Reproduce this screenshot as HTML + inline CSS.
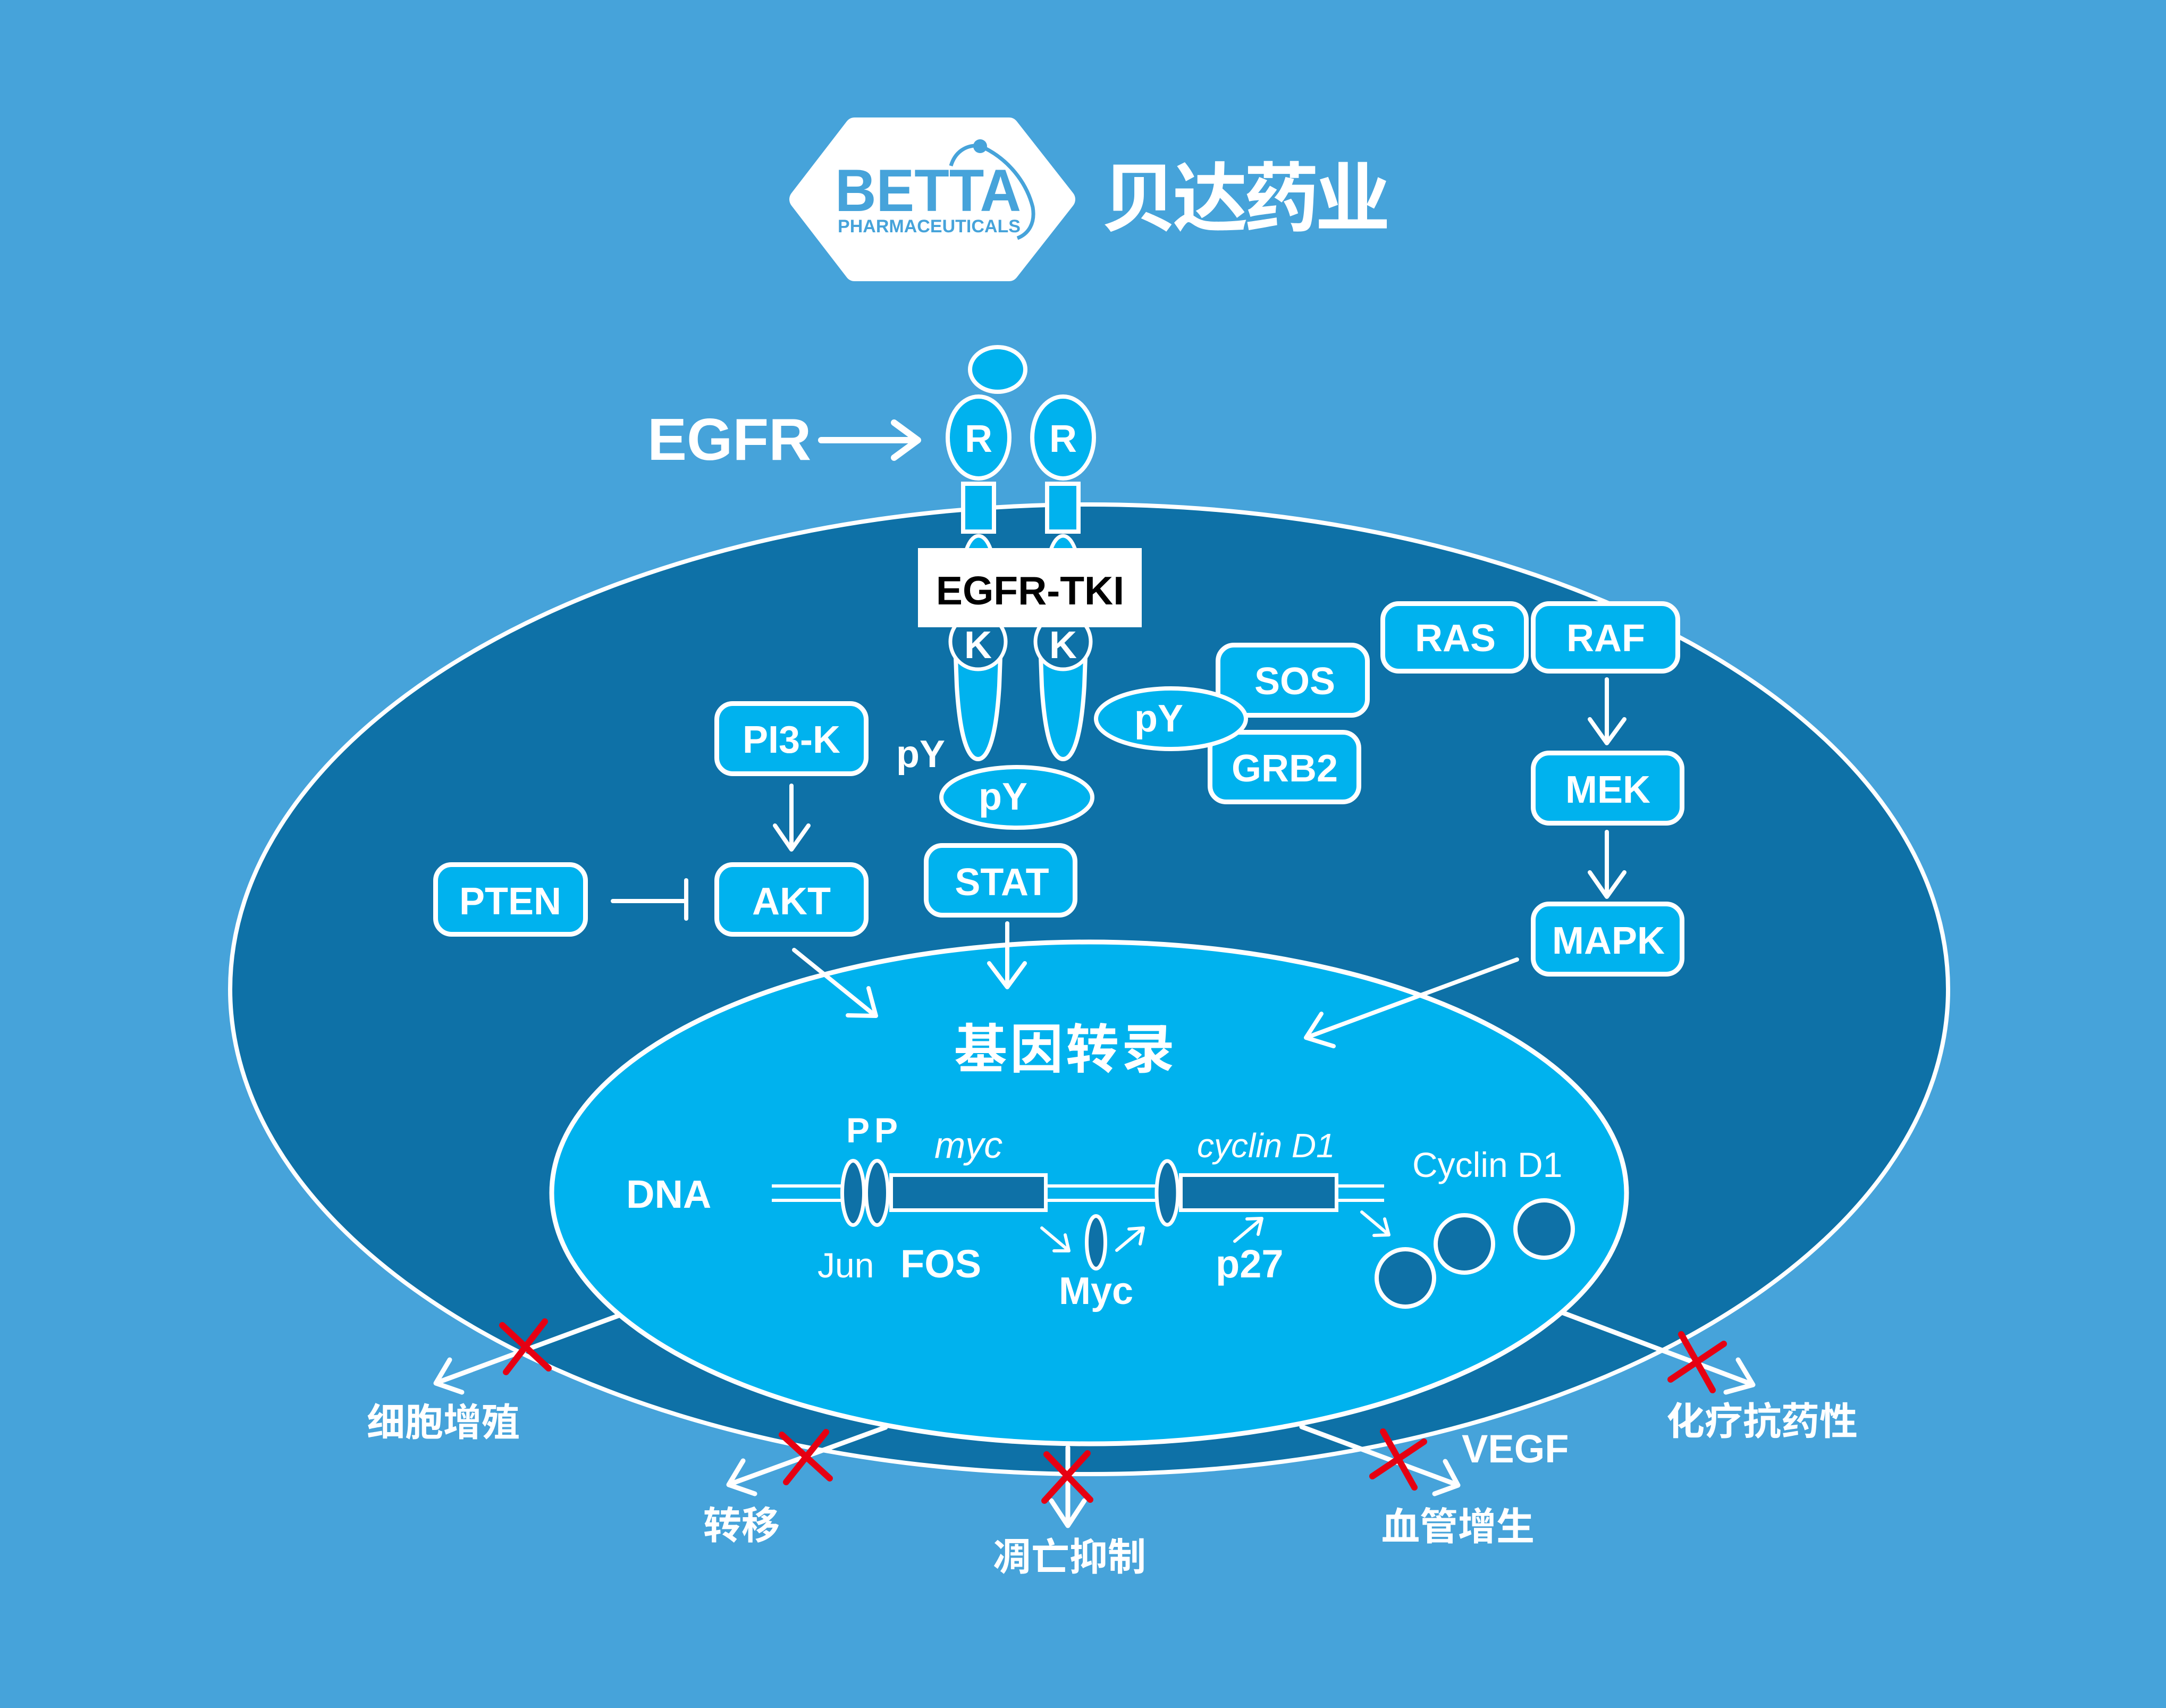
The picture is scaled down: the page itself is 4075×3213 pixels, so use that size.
<!DOCTYPE html>
<html>
<head>
<meta charset="utf-8">
<style>
html,body{margin:0;padding:0;background:#46a3da;}
svg{display:block;}
.lat{font-family:"Liberation Sans",Arial,sans-serif;}
.cjk{font-family:"Liberation Sans","Noto Sans CJK SC","WenQuanYi Zen Hei",sans-serif;font-weight:bold;}
.w{stroke:#fff;fill:none;stroke-linecap:round;stroke-linejoin:round;}
.box{fill:#00b2ee;stroke:#fff;stroke-width:9;}
.bt{font-family:"Liberation Sans",Arial,sans-serif;font-weight:bold;font-size:72px;fill:#fff;text-anchor:middle;}
.rx{stroke:#e60012;stroke-width:12;stroke-linecap:round;fill:none;}
</style>
</head>
<body>
<svg width="4075" height="3213" viewBox="0 0 4075 3213" xmlns="http://www.w3.org/2000/svg">
<rect width="4075" height="3213" fill="#46a3da"/>

<!-- Logo -->
<polygon points="1608,240 1898,240 2004,375 1898,510 1608,510 1504,375" fill="#fff" stroke="#fff" stroke-width="38" stroke-linejoin="round"/>
<text class="lat" x="1571" y="397" font-size="112" font-weight="bold" fill="#46a3da" textLength="350" lengthAdjust="spacingAndGlyphs">BETTA</text>
<text class="lat" x="1576" y="437" font-size="34" font-weight="bold" fill="#46a3da" textLength="344" lengthAdjust="spacingAndGlyphs">PHARMACEUTICALS</text>
<path d="M1789,312 C1796,288 1815,272 1843,274 C1898,298 1932,345 1943,390 C1948,420 1935,440 1914,448" fill="none" stroke="#46a3da" stroke-width="7"/>
<circle cx="1844" cy="275" r="13" fill="#46a3da"/>
<text class="cjk" x="2072 2206 2340 2474" y="375" font-size="142" fill="#fff" dominant-baseline="central">贝达药业</text>

<!-- Cell -->
<ellipse cx="2049" cy="1861" rx="1616" ry="912" fill="#0e71a7" stroke="#fff" stroke-width="8"/>
<ellipse cx="2049" cy="2244" rx="1011" ry="472" fill="#00b2ee" stroke="#fff" stroke-width="9"/>

<!-- EGFR label and arrow -->
<text class="lat" x="1218" y="865" font-size="111" font-weight="bold" fill="#fff">EGFR</text>
<g class="w" stroke-width="12">
<line x1="1545" y1="828" x2="1725" y2="828"/>
<polyline points="1682,795 1727,828 1682,861"/>
</g>

<!-- Receptor -->
<ellipse cx="1877" cy="695" rx="52" ry="42" fill="#00b2ee" stroke="#fff" stroke-width="8"/>
<ellipse cx="1841" cy="823" rx="58" ry="77" fill="#00b2ee" stroke="#fff" stroke-width="8"/>
<ellipse cx="2000" cy="823" rx="58" ry="77" fill="#00b2ee" stroke="#fff" stroke-width="8"/>
<text class="bt" x="1841" y="850">R</text>
<text class="bt" x="2000" y="850">R</text>
<ellipse cx="1841" cy="1075" rx="29" ry="67" fill="#00b2ee" stroke="#fff" stroke-width="7"/>
<ellipse cx="2000" cy="1075" rx="29" ry="67" fill="#00b2ee" stroke="#fff" stroke-width="7"/>
<rect x="1812" y="910" width="58" height="90" fill="#00b2ee" stroke="#fff" stroke-width="8"/>
<rect x="1970" y="910" width="59" height="90" fill="#00b2ee" stroke="#fff" stroke-width="8"/>
<path d="M1796,1180 L1800,1290 C1806,1390 1822,1428 1840,1428 C1858,1428 1874,1390 1880,1290 L1884,1180" fill="#00b2ee" stroke="#fff" stroke-width="8"/>
<path d="M1956,1180 L1960,1290 C1966,1390 1982,1428 2000,1428 C2018,1428 2034,1390 2040,1290 L2044,1180" fill="#00b2ee" stroke="#fff" stroke-width="8"/>
<circle cx="1840" cy="1207" r="52" fill="#0e71a7" stroke="#fff" stroke-width="7"/>
<circle cx="2000" cy="1207" r="52" fill="#0e71a7" stroke="#fff" stroke-width="7"/>
<text class="bt" x="1840" y="1238">K</text>
<text class="bt" x="2000" y="1238">K</text>
<rect x="1727" y="1031" width="421" height="149" fill="#fff"/>
<text class="lat" x="1938" y="1137" font-size="75" font-weight="bold" fill="#000" text-anchor="middle">EGFR-TKI</text>

<!-- pY -->
<text class="lat" x="1686" y="1443" font-size="72" font-weight="bold" fill="#fff">pY</text>
<ellipse cx="1913" cy="1500" rx="142" ry="57" fill="#00b2ee" stroke="#fff" stroke-width="8"/>
<text class="bt" x="1887" y="1523">pY</text>

<!-- SOS / GRB2 -->
<rect class="box" x="2291.5" y="1213.5" width="281" height="132" rx="30"/>
<text class="bt" x="2436" y="1306">SOS</text>
<rect class="box" x="2276.5" y="1377.5" width="280" height="131" rx="30"/>
<text class="bt" x="2417" y="1470">GRB2</text>
<ellipse cx="2203" cy="1352" rx="141" ry="57" fill="#00b2ee" stroke="#fff" stroke-width="8"/>
<text class="bt" x="2180" y="1376">pY</text>

<!-- RAS RAF MEK MAPK -->
<rect class="box" x="2601.5" y="1135.5" width="270" height="127" rx="30"/>
<text class="bt" x="2738" y="1225">RAS</text>
<rect class="box" x="2884.5" y="1135.5" width="272" height="127" rx="30"/>
<text class="bt" x="3021" y="1225">RAF</text>
<rect class="box" x="2884.5" y="1416.5" width="280" height="132" rx="30"/>
<text class="bt" x="3025" y="1510">MEK</text>
<rect class="box" x="2884.5" y="1700.5" width="280" height="132" rx="30"/>
<text class="bt" x="3026" y="1794">MAPK</text>

<g class="w" stroke-width="8">
<line x1="3023" y1="1278" x2="3023" y2="1396"/>
<polyline points="2991,1353 3023,1398 3056,1353"/>
<line x1="3023" y1="1565" x2="3023" y2="1685"/>
<polyline points="2991,1641 3023,1687 3056,1641"/>
<line x1="2854" y1="1805" x2="2460" y2="1951"/>
<polyline points="2486,1907 2457,1952 2509,1968"/>
</g>

<!-- PI3K / AKT / PTEN / STAT -->
<rect class="box" x="1348.5" y="1323.5" width="281" height="132" rx="30"/>
<text class="bt" x="1489" y="1416">PI3-K</text>
<rect class="box" x="1348.5" y="1626.5" width="281" height="131" rx="30"/>
<text class="bt" x="1489" y="1720">AKT</text>
<rect class="box" x="819.5" y="1626.5" width="282" height="131" rx="30"/>
<text class="bt" x="960" y="1720">PTEN</text>
<rect class="box" x="1742.5" y="1590.5" width="280" height="131" rx="30"/>
<text class="bt" x="1885" y="1684">STAT</text>

<g class="w" stroke-width="8">
<line x1="1489" y1="1478" x2="1489" y2="1596"/>
<polyline points="1458,1553 1489,1598 1521,1553"/>
<line x1="1153" y1="1695" x2="1291" y2="1695"/>
<line x1="1291" y1="1656" x2="1291" y2="1728"/>
<line x1="1895" y1="1737" x2="1895" y2="1855"/>
<polyline points="1861,1812 1895,1857 1928,1812"/>
<line x1="1494" y1="1787" x2="1646" y2="1910"/>
<polyline points="1634,1859 1648,1911 1595,1910"/>
</g>

<!-- Nucleus contents -->
<text class="cjk" x="1795 1900 2005 2110" y="1975" font-size="100" fill="#fff" dominant-baseline="central">基因转录</text>

<text class="lat" x="1178" y="2272" font-size="74" font-weight="bold" fill="#fff">DNA</text>
<g stroke="#fff" stroke-width="6">
<line x1="1452" y1="2231" x2="1585" y2="2231"/>
<line x1="1452" y1="2258" x2="1585" y2="2258"/>
<line x1="1968" y1="2231" x2="2178" y2="2231"/>
<line x1="1968" y1="2258" x2="2178" y2="2258"/>
<line x1="2515" y1="2231" x2="2604" y2="2231"/>
<line x1="2515" y1="2258" x2="2604" y2="2258"/>
</g>
<rect x="1676.5" y="2210.5" width="291" height="66" fill="#0e71a7" stroke="#fff" stroke-width="7"/>
<rect x="2221.5" y="2210.5" width="293" height="66" fill="#0e71a7" stroke="#fff" stroke-width="7"/>
<ellipse cx="1605" cy="2244" rx="20.5" ry="60.5" fill="#0e71a7" stroke="#fff" stroke-width="7"/>
<ellipse cx="1650" cy="2244" rx="20.5" ry="60.5" fill="#0e71a7" stroke="#fff" stroke-width="7"/>
<ellipse cx="2196" cy="2244" rx="20" ry="60" fill="#0e71a7" stroke="#fff" stroke-width="7"/>
<ellipse cx="2062" cy="2337" rx="17.5" ry="49.5" fill="#0e71a7" stroke="#fff" stroke-width="7"/>

<text class="lat" x="1592" y="2149" font-size="66" font-weight="bold" fill="#fff">P</text>
<text class="lat" x="1645" y="2149" font-size="66" font-weight="bold" fill="#fff">P</text>
<text class="lat" x="1758" y="2178" font-size="70" font-style="italic" fill="#fff">myc</text>
<text class="lat" x="1538" y="2403" font-size="66" fill="#fff">Jun</text>
<text class="lat" x="1694" y="2403" font-size="74" font-weight="bold" fill="#fff">FOS</text>
<text class="lat" x="1992" y="2453" font-size="72" font-weight="bold" fill="#fff">Myc</text>
<text class="lat" x="2252" y="2177" font-size="64" font-style="italic" fill="#fff">cyclin D1</text>
<text class="lat" x="2657" y="2214" font-size="66" fill="#fff">Cyclin D1</text>
<text class="lat" x="2287" y="2403" font-size="74" font-weight="bold" fill="#fff">p27</text>

<circle cx="2644" cy="2404" r="54" fill="#0e71a7" stroke="#fff" stroke-width="8"/>
<circle cx="2755" cy="2340" r="54" fill="#0e71a7" stroke="#fff" stroke-width="8"/>
<circle cx="2905" cy="2312" r="54" fill="#0e71a7" stroke="#fff" stroke-width="8"/>

<g class="w" stroke-width="6">
<line x1="1960" y1="2310" x2="2010" y2="2352"/>
<polyline points="2004,2323 2011,2353 1983,2353"/>
<line x1="2101" y1="2352" x2="2150" y2="2311"/>
<polyline points="2124,2312 2151,2310 2145,2340"/>
<line x1="2323" y1="2335" x2="2373" y2="2293"/>
<polyline points="2346,2293 2374,2292 2367,2322"/>
<line x1="2562" y1="2280" x2="2612" y2="2322"/>
<polyline points="2605,2293 2613,2323 2585,2324"/>
</g>

<!-- Outputs -->
<g class="w" stroke-width="9">
<line x1="1166" y1="2474" x2="822" y2="2601"/>
<polyline points="846,2558 820,2602 869,2619"/>
<line x1="1666" y1="2685" x2="1373" y2="2792"/>
<polyline points="1398,2748 1371,2793 1420,2810"/>
<line x1="2009" y1="2723" x2="2009" y2="2868"/>
<polyline points="1978,2823 2009,2870 2040,2823"/>
<line x1="2449" y1="2684" x2="2741" y2="2793"/>
<polyline points="2719,2749 2743,2794 2699,2810"/>
<line x1="2939" y1="2469" x2="3296" y2="2604"/>
<polyline points="3270,2558 3298,2605 3247,2619"/>
</g>

<g class="rx">
<line x1="945" y1="2493" x2="1032" y2="2574"/>
<line x1="1025" y1="2486" x2="952" y2="2581"/>
<line x1="1471" y1="2699" x2="1561" y2="2781"/>
<line x1="1554" y1="2694" x2="1479" y2="2788"/>
<line x1="1969" y1="2736" x2="2051" y2="2821"/>
<line x1="2046" y1="2734" x2="1965" y2="2823"/>
<line x1="2602" y1="2693" x2="2661" y2="2798"/>
<line x1="2679" y1="2712" x2="2582" y2="2777"/>
<line x1="3163" y1="2510" x2="3222" y2="2615"/>
<line x1="3243" y1="2528" x2="3143" y2="2595"/>
</g>

<text class="lat" x="2750" y="2751" font-size="74" font-weight="bold" fill="#fff">VEGF</text>
<text class="cjk" x="690" y="2677" font-size="72" fill="#fff" dominant-baseline="central">细胞增殖</text>
<text class="cjk" x="1323" y="2871" font-size="72" fill="#fff" dominant-baseline="central">转移</text>
<text class="cjk" x="1868" y="2930" font-size="72" fill="#fff" dominant-baseline="central">凋亡抑制</text>
<text class="cjk" x="2599" y="2873" font-size="72" fill="#fff" dominant-baseline="central">血管增生</text>
<text class="cjk" x="3135" y="2675" font-size="72" fill="#fff" dominant-baseline="central">化疗抗药性</text>
</svg>
</body>
</html>
